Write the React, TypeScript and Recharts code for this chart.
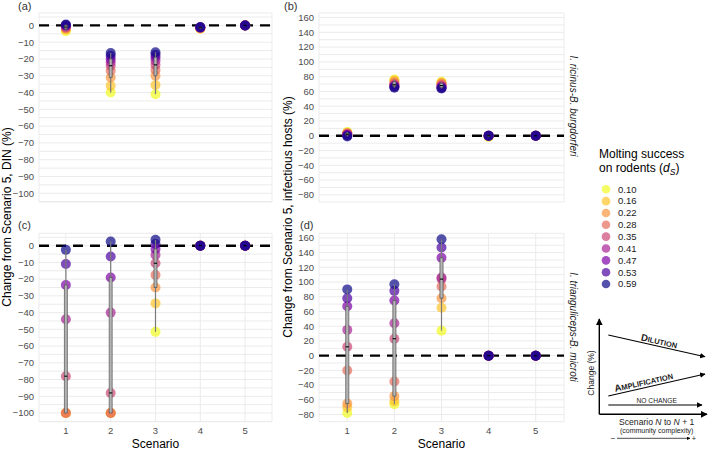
import React from 'react'
import { ScatterChart, Scatter, XAxis, YAxis, CartesianGrid, ReferenceLine, ReferenceArea } from 'recharts'

const FONT = '"Liberation Sans", Arial, Helvetica, sans-serif'

const scenarios = [1, 2, 3, 4, 5]
const dsLevels = ['0.10', '0.16', '0.22', '0.28', '0.35', '0.41', '0.47', '0.53', '0.59']
const dsColors = ['#F0F921', '#FDC328', '#F89540', '#E66C5C', '#CC4778', '#A92395', '#7E03A8', '#4C02A1', '#0D0887']

// one row per ds level, one column per scenario 1..5
const ricinusDin = [
  [-3.5, -40, -41, -2, 0],
  [-2.5, -36, -35.5, -1.8, 0],
  [-2, -31, -30, -1.6, 0],
  [-1.5, -27, -26.5, -1.5, 0],
  [-1, -24, -23.5, -1.4, 0],
  [-0.5, -22, -21, -1.3, 0],
  [0, -20, -19, -1.2, 0],
  [0.3, -18, -17.5, -1.1, 0],
  [0.5, -16.5, -16, -1, 0],
]
const ricinusHosts = [
  [5, 76, 73, -1.5, 0],
  [4, 75, 72, -1, 0],
  [3.5, 73, 71, -0.5, 0],
  [3, 71, 69.5, 0, 0],
  [2, 69, 68, 0, 0],
  [1.5, 68, 66.5, 0, 0],
  [1, 67, 65.5, 0, 0],
  [0, 66, 64.5, 0, 0],
  [-1, 65, 64, 0, 0],
]
const trianDin = [
  [-100, -100, -51.5, 0, 0],
  [-100, -100, -34.5, 0, 0],
  [-100, -100, -25, 0, 0],
  [-100, -100, -17.5, 0, 0],
  [-78, -88, -10.5, 0, 0],
  [-44, -40, -5.5, 0, 0],
  [-23.5, -19, -2, 0, 0],
  [-11, -6.5, 1, 0, 0],
  [-2.5, 2.5, 3.5, 0, 0],
]
const trianHosts = [
  [-78, -66, 34, 0, 0],
  [-70, -62, 65, 0, 0],
  [-65, -55, 78, 0, 0],
  [-20, -35, 94, 0, 0],
  [12, 23, 104, 0, 0],
  [35, 44, 106, 0, 0],
  [67, 75, 133, 0, 0],
  [78, 88, 147, 0, 0],
  [90, 97, 158, 0, 0],
]

const dinTicks = [-105, -100, -95, -90, -85, -80, -75, -70, -65, -60, -55, -50, -45, -40, -35, -30, -25, -20, -15, -10, -5, 0, 5]
const dinLabels = [-100, -90, -80, -70, -60, -50, -40, -30, -20, -10, 0]
const hostTicks = [-80, -70, -60, -50, -40, -30, -20, -10, 0, 10, 20, 30, 40, 50, 60, 70, 80, 90, 100, 110, 120, 130, 140, 150, 160]
const hostLabels = [-80, -60, -40, -20, 0, 20, 40, 60, 80, 100, 120, 140, 160]

const fmt = (v: number) => (v < 0 ? `\u2212${Math.abs(v)}` : `${v}`)

const quant = (s: number[], p: number) => {
  const h = (s.length - 1) * p
  const lo = Math.floor(h)
  const hi = Math.min(lo + 1, s.length - 1)
  return s[lo] + (h - lo) * (s[hi] - s[lo])
}

function boxStats(vals: number[]) {
  const s = [...vals].sort((a, b) => a - b)
  const q1 = quant(s, 0.25)
  const med = quant(s, 0.5)
  const q3 = quant(s, 0.75)
  const iqr = q3 - q1
  const lo = s.find((v) => v >= q1 - 1.5 * iqr) as number
  const hi = [...s].reverse().find((v) => v <= q3 + 1.5 * iqr) as number
  return { q1, med, q3, lo, hi }
}

const YTick = (props: any) => {
  const { x, y, payload, labels } = props
  if (!labels.includes(payload.value)) return <g />
  return (
    <text x={x} y={y} dy="0.35em" textAnchor="end" fontSize={9.5} fill="#4d4d4d" fontFamily={FONT}>
      {fmt(payload.value)}
    </text>
  )
}

const XTick = (props: any) => {
  const { x, y, payload } = props
  return (
    <text x={x} y={y} dy="0.71em" textAnchor="middle" fontSize={9.5} fill="#4d4d4d" fontFamily={FONT}>
      {payload.value}
    </text>
  )
}

interface PanelProps {
  rows: number[][]
  yDomain: [number, number]
  yTicks: number[]
  yLabels: number[]
  left: number
  top: number
  bottom: boolean
}

const BOX_HALF = 0.033

function Panel({ rows, yDomain, yTicks, yLabels, left, top, bottom }: PanelProps) {
  const series = dsLevels.map((_, i) => scenarios.map((s, j) => ({ x: s, y: rows[i][j] })))
  const boxes = scenarios.map((s, j) => ({ s, ...boxStats(rows.map((r) => r[j])) }))
  const height = bottom ? 229 : 210
  const margin = bottom ? { top: 13.3, right: 8, bottom: 12.3, left: 0 } : { top: 13, right: 8, bottom: 0, left: 0 }
  const boxProps: any = { zIndex: 700 }
  return (
    <div style={{ position: 'absolute', left, top }}>
      <ScatterChart width={left === 0 ? 280 : 292} height={height} margin={margin}>
        <CartesianGrid stroke="#ebebeb" strokeWidth={1} />
        <XAxis
          type="number"
          dataKey="x"
          domain={[0.4, 5.6]}
          allowDataOverflow
          ticks={scenarios}
          interval={0}
          axisLine={false}
          tickLine={false}
          tickSize={4}
          tickMargin={2}
          height={bottom ? 15 : 8}
          tick={bottom ? <XTick /> : false}
        />
        <YAxis
          type="number"
          dataKey="y"
          domain={yDomain}
          allowDataOverflow
          ticks={yTicks}
          interval={0}
          axisLine={false}
          tickLine={false}
          tickSize={3}
          tickMargin={2}
          width={39}
          tick={(p: any) => <YTick {...p} labels={yLabels} />}
        />
        <ReferenceLine y={0} stroke="#000" strokeWidth={2.4} strokeDasharray="10 7" />
        {series.map((d, i) => (
          <Scatter
            key={dsLevels[i]}
            name={dsLevels[i]}
            data={d}
            fill={dsColors[i]}
            isAnimationActive={false}
            shape={(p: any) => <circle cx={p.cx} cy={p.cy} r={5} fill={dsColors[i]} fillOpacity={0.7} />}
          />
        ))}
        {boxes.map((b) => (
          <ReferenceLine
            key={`w${b.s}`}
            {...boxProps}
            segment={[{ x: b.s, y: b.lo }, { x: b.s, y: b.hi }]}
            stroke="#7a7a7a"
            strokeWidth={1.2}
          />
        ))}
        {boxes.map((b) => (
          <ReferenceArea
            key={`b${b.s}`}
            {...boxProps}
            x1={b.s - BOX_HALF}
            x2={b.s + BOX_HALF}
            y1={b.q1}
            y2={b.q3}
            fill="#b4b4b4"
            fillOpacity={1}
            stroke="#505050"
            strokeWidth={0.7}
          />
        ))}
        {boxes.map((b) => (
          <ReferenceLine
            key={`m${b.s}`}
            {...boxProps}
            segment={[{ x: b.s - BOX_HALF, y: b.med }, { x: b.s + BOX_HALF, y: b.med }]}
            stroke="#000"
            strokeWidth={1.1}
          />
        ))}
      </ScatterChart>
    </div>
  )
}

function Overlay() {
  const legendY0 = 189.3
  const legendStep = 11.84
  return (
    <svg width={709} height={449} style={{ position: 'absolute', left: 0, top: 0, pointerEvents: 'none' }} fontFamily={FONT}>
      <defs>
        <marker id="ah" viewBox="0 0 10 10" refX="9" refY="5" markerWidth="5" markerHeight="5" orient="auto-start-reverse">
          <path d="M0,0 L10,5 L0,10 z" fill="#000" />
        </marker>
      </defs>
      {/* panel tags */}
      <text x={18} y={10} fontSize={11} fill="#333">(a)</text>
      <text x={284} y={10} fontSize={11} fill="#333">(b)</text>
      <text x={18} y={229} fontSize={11} fill="#333">(c)</text>
      <text x={300} y={229} fontSize={11} fill="#333">(d)</text>

      {/* axis titles */}
      <text transform="translate(11,217) rotate(-90)" textAnchor="middle" fontSize={12} fill="#000">
        Change from Scenario 5, DIN (%)
      </text>
      <text transform="translate(292,217) rotate(-90)" textAnchor="middle" fontSize={12} fill="#000">
        Change from Scenario 5, infectious hosts (%)
      </text>
      <text x={155.5} y={447.5} textAnchor="middle" fontSize={12} fill="#000">Scenario</text>
      <text x={441.5} y={447.5} textAnchor="middle" fontSize={12} fill="#000">Scenario</text>

      {/* strip labels */}
      <text transform="translate(573,106) rotate(90)" textAnchor="middle" dominantBaseline="central" fontSize={10} fontStyle="italic" fill="#1a1a1a">
        I. ricinus-B. burgdorferi
      </text>
      <text transform="translate(573,327) rotate(90)" textAnchor="middle" dominantBaseline="central" fontSize={10} fontStyle="italic" fill="#1a1a1a">
        I. trianguliceps-B. microti
      </text>

      {/* legend */}
      <text x={599} y={158} fontSize={12} fill="#000">Molting success</text>
      <text x={599} y={172} fontSize={12} fill="#000">
        on rodents (<tspan fontStyle="italic">d</tspan>
        <tspan fontStyle="italic" fontSize={8.5} dy={3}>S</tspan>
        <tspan dy={-3}>)</tspan>
      </text>
      {dsLevels.map((lvl, i) => (
        <g key={lvl}>
          <circle cx={606} cy={legendY0 + i * legendStep} r={4.3} fill={dsColors[i]} fillOpacity={0.7} />
          <text x={618} y={legendY0 + i * legendStep} dy="0.35em" fontSize={9.5} fill="#1a1a1a">{lvl}</text>
        </g>
      ))}

      {/* conceptual inset */}
      <line x1={599.3} y1={414.3} x2={599.3} y2={319} stroke="#000" strokeWidth={1.4} markerEnd="url(#ah)" />
      <line x1={599.3} y1={414.3} x2={707} y2={414.3} stroke="#000" strokeWidth={1.4} markerEnd="url(#ah)" />
      <line x1={608.3} y1={335} x2={705} y2={356.7} stroke="#000" strokeWidth={1.1} markerEnd="url(#ah)" />
      <line x1={608.3} y1={396} x2={705} y2={374} stroke="#000" strokeWidth={1.1} markerEnd="url(#ah)" />
      <line x1={608.3} y1={405} x2={702} y2={405} stroke="#000" strokeWidth={1.1} markerEnd="url(#ah)" />
      <text transform="translate(658,346.3) rotate(12.6)" y={-2} textAnchor="middle" fontWeight="bold" fill="#222">
        <tspan fontSize={9.5}>D</tspan>
        <tspan fontSize={7.5}>ILUTION</tspan>
      </text>
      <text transform="translate(645,387.7) rotate(-12.8)" y={-2.5} textAnchor="middle" fontWeight="bold" fill="#222">
        <tspan fontSize={9.5}>A</tspan>
        <tspan fontSize={7.5}>MPLIFICATION</tspan>
      </text>
      <text x={656.7} y={403} textAnchor="middle" fontSize={6.7} fill="#222">NO CHANGE</text>
      <text transform="translate(594,373) rotate(-90)" textAnchor="middle" fontSize={8.5} fill="#222">Change (%)</text>
      <text x={656.7} y={425.3} textAnchor="middle" fontSize={8.6} fill="#222">
        Scenario <tspan fontStyle="italic">N</tspan> to <tspan fontStyle="italic">N</tspan> + 1
      </text>
      <text x={656.7} y={433.4} textAnchor="middle" fontSize={7} fill="#222">(community complexity)</text>
      <text x={613} y={440.5} textAnchor="middle" fontSize={8} fill="#222">{'\u2212'}</text>
      <line x1={617} y1={438.3} x2={690} y2={438.3} stroke="#000" strokeWidth={0.7} markerEnd="url(#ah)" />
      <text x={694} y={440.8} textAnchor="middle" fontSize={7.5} fill="#222">+</text>
    </svg>
  )
}

export default function App() {
  return (
    <div style={{ position: 'absolute', left: 0, top: 0, width: 709, height: 449, background: '#fff', overflow: 'hidden', fontFamily: FONT }}>
      <Panel rows={ricinusDin} yDomain={[-105.2, 7.4]} yTicks={dinTicks} yLabels={dinLabels} left={0} top={0} bottom={false} />
      <Panel rows={ricinusHosts} yDomain={[-89.7, 166.2]} yTicks={hostTicks} yLabels={hostLabels} left={280} top={0} bottom={false} />
      <Panel rows={trianDin} yDomain={[-105.2, 7.4]} yTicks={dinTicks} yLabels={dinLabels} left={0} top={220} bottom />
      <Panel rows={trianHosts} yDomain={[-89.7, 166.2]} yTicks={hostTicks} yLabels={hostLabels} left={280} top={220} bottom />
      <Overlay />
    </div>
  )
}
